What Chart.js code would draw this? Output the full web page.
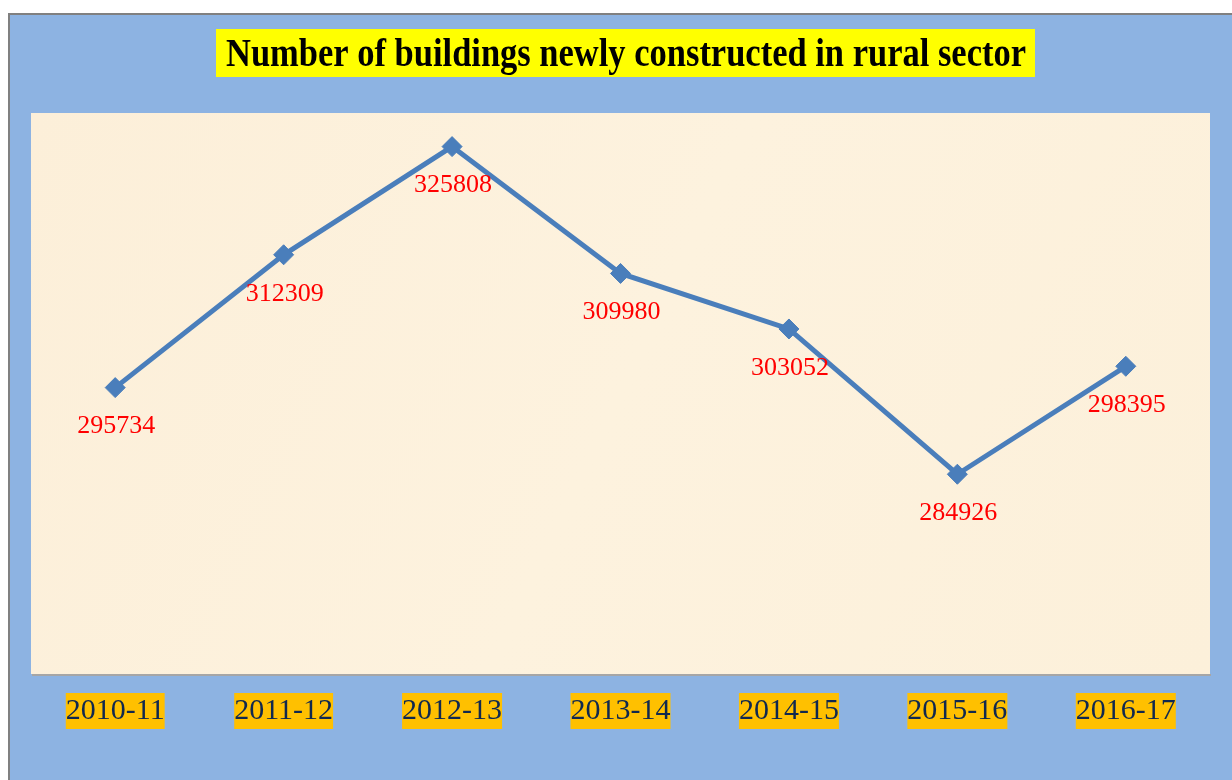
<!DOCTYPE html>
<html>
<head>
<meta charset="utf-8">
<script src="https://cdn.jsdelivr.net/npm/chart.js@4.4.1/dist/chart.umd.min.js"></script>
<style>
  html, body { margin: 0; padding: 0; background: #ffffff; overflow: hidden; }
  #wrap { width: 1232px; height: 780px; position: relative; }
</style>
</head>
<body>
<div id="wrap"><canvas id="lineChart" width="1232" height="780"></canvas></div>
<script>
// chart data
const chartTitle = 'Number of buildings newly constructed in rural sector';
const years = ['2010-11', '2011-12', '2012-13', '2013-14', '2014-15', '2015-16', '2016-17'];
const buildings = [295734, 312309, 325808, 309980, 303052, 284926, 298395];
const yMin = 260000;
const yMax = 330000;

// frame, plot background and title box
const backgroundPlugin = {
    id: 'backgroundPlugin',
    beforeDraw(chart) {
        const ctx = chart.ctx;
        const area = chart.chartArea;
        ctx.save();
        ctx.fillStyle = '#ffffff';
        ctx.fillRect(0, 0, chart.width, chart.height);
        ctx.fillStyle = '#8db3e2';
        ctx.fillRect(8, 13, chart.width - 8, chart.height - 13);
        ctx.strokeStyle = '#808080';
        ctx.lineWidth = 2;
        ctx.beginPath();
        ctx.moveTo(9, chart.height);
        ctx.lineTo(9, 14);
        ctx.lineTo(chart.width, 14);
        ctx.stroke();

        // plot area
        ctx.fillStyle = '#a6a6a6';
        ctx.fillRect(area.left + 1, area.bottom, area.right - area.left, 2);
        const grad = ctx.createLinearGradient(area.left, area.top, area.right, area.bottom);
        grad.addColorStop(0, '#fcefd9');
        grad.addColorStop(0.5, '#fdf2de');
        grad.addColorStop(1, '#fcf0da');
        ctx.fillStyle = grad;
        ctx.fillRect(area.left, area.top, area.right - area.left, area.bottom - area.top);

        // title
        ctx.fillStyle = '#ffff00';
        ctx.fillRect(216, 29, 819, 48);
        ctx.font = 'bold 40px "Liberation Serif", "Times New Roman", serif';
        const w = ctx.measureText(chartTitle).width;
        const target = 800;
        ctx.translate(626, 56);
        ctx.scale(target / w, 1);
        ctx.fillStyle = '#000000';
        ctx.textAlign = 'center';
        ctx.textBaseline = 'middle';
        ctx.fillText(chartTitle, 0, 0);
        ctx.restore();
    }
};

// red value labels under each point
const valueLabels = {
    id: 'valueLabels',
    afterDatasetsDraw(chart) {
        const ctx = chart.ctx;
        const meta = chart.getDatasetMeta(0);
        ctx.save();
        ctx.font = '26px "Liberation Serif", "Times New Roman", serif';
        ctx.fillStyle = '#ff0000';
        ctx.textAlign = 'center';
        ctx.textBaseline = 'middle';
        meta.data.forEach((pt, i) => {
            ctx.fillText(String(buildings[i]), pt.x + 1, pt.y + 39);
        });
        ctx.restore();
    }
};

const ctx = document.getElementById('lineChart');
new Chart(ctx, {
    type: 'line',
    data: {
        labels: years,
        datasets: [{
            label: 'Buildings',
            data: buildings,
            borderColor: '#4a7ebb',
            backgroundColor: '#4a7ebb',
            borderWidth: 5,
            pointStyle: 'rectRot',
            pointRadius: 10,
            pointHoverRadius: 10,
            pointBackgroundColor: '#4a7ebb',
            pointBorderColor: '#4a7ebb',
            pointBorderWidth: 1,
            tension: 0
        }]
    },
    options: {
        responsive: false,
        animation: false,
        devicePixelRatio: 1,
        layout: {
            padding: { left: 31, right: 22, top: 113, bottom: 0 }
        },
        plugins: {
            legend: { display: false },
            title: { display: false },
            tooltip: { enabled: false }
        },
        scales: {
            x: {
                offset: true,
                border: { display: false },
                grid: { display: false, drawTicks: false },
                afterFit: (scale) => { scale.height = 106; },
                ticks: {
                    padding: 19,
                    color: '#10284f',
                    font: { family: '"Liberation Serif", "Times New Roman", serif', size: 30 },
                    showLabelBackdrop: true,
                    backdropColor: '#ffc000',
                    backdropPadding: { top: 0, bottom: 0, left: 0, right: 0 }
                }
            },
            y: {
                display: false,
                min: yMin,
                max: yMax
            }
        }
    },
    plugins: [backgroundPlugin, valueLabels]
});
</script>
</body>
</html>
